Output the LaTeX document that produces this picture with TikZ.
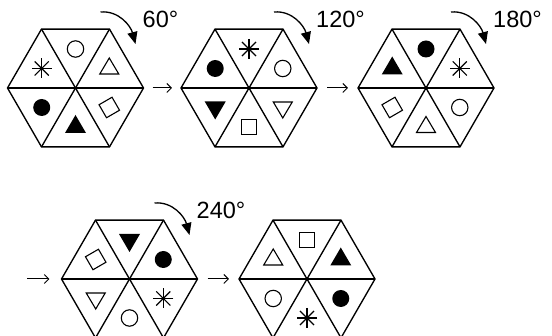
\documentclass[tikz,border=0pt]{standalone}
\usepackage{fontspec}
\setmainfont{Liberation Sans}
\usetikzlibrary{shapes.geometric,arrows.meta}
\tikzset{
  hexa/.style={regular polygon, regular polygon sides=6, minimum size=136pt,
    inner sep=0pt, outer sep=0pt, draw, line width=1.35pt},
  divline/.style={line width=1.35pt},
  stepline/.style={line width=1pt, -{Straight Barb[length=4.5pt,width=9pt]}},
  rotarrow/.style={line width=1.3pt, -{Triangle[length=12pt,width=10pt]}},
  anglelabel/.style={anchor=west, inner sep=0pt, font=\fontsize{23.5}{26}\selectfont},
  symline/.style={line width=1.1pt},
  pics/ocirc/.style={code={\draw[symline] (0pt,0pt) circle (8.2pt);}},
  pics/fcirc/.style={code={\fill (0pt,0pt) circle (8.5pt);}},
  pics/otriup/.style={code={\draw[symline,line join=miter] (-9.5pt,-5.5pt)--(9.5pt,-5.5pt)--(0pt,10.5pt)--cycle;}},
  pics/otridn/.style={code={\draw[symline,line join=miter] (-9.5pt,5.5pt)--(9.5pt,5.5pt)--(0pt,-10.5pt)--cycle;}},
  pics/ftriup/.style={code={\fill (-10.5pt,-6pt)--(10.5pt,-6pt)--(0pt,12pt)--cycle;}},
  pics/ftridn/.style={code={\fill (-10.5pt,6pt)--(10.5pt,6pt)--(0pt,-12pt)--cycle;}},
  pics/osq/.style={code={\draw[symline] (-7.5pt,-7.5pt) rectangle (7.5pt,7.5pt);}},
  pics/osqr/.style={code={\draw[symline,rotate=30] (-7.5pt,-7.5pt) rectangle (7.5pt,7.5pt);}},
  pics/star/.style={code={\foreach \a in {0,45,90,135}{\draw[symline] (\a:10pt) -- (\a+180:10pt);}}},
}
\newcommand\hexsyms[7]{%
  \draw[divline] (#1.corner 1) -- (#1.corner 4);
  \draw[divline] (#1.corner 2) -- (#1.corner 5);
  \draw[divline] (#1.corner 3) -- (#1.corner 6);
  \pic at ([shift={(90:39pt)}]#1.center) {#2};
  \pic at ([shift={(30:39pt)}]#1.center) {#3};
  \pic at ([shift={(-30:39pt)}]#1.center) {#4};
  \pic at ([shift={(-90:39pt)}]#1.center) {#5};
  \pic at ([shift={(-150:39pt)}]#1.center) {#6};
  \pic at ([shift={(150:39pt)}]#1.center) {#7};
}
\newcommand\rotmark[2]{%
  \coordinate (#1s) at ([shift={(25pt,76pt)}]#1.center);
  \coordinate (#1e) at ([shift={(60pt,44pt)}]#1.center);
  \draw[rotarrow] (#1s) to[out=5,in=105] (#1e);
  \node[anglelabel] (#1l) at ([shift={(67pt,69pt)}]#1.center) {#2};
}
\begin{document}
\begin{tikzpicture}[x=1pt,y=-1pt]
\useasboundingbox (0,0) rectangle (552,336);
\node[hexa] (h1) at (75.5,88) {};
\node[hexa] (h2) at (249,88) {};
\node[hexa] (h3) at (426,88) {};
\node[hexa] (h4) at (129.5,279) {};
\node[hexa] (h5) at (307,279) {};
\hexsyms{h1}{ocirc}{otriup}{osqr}{ftriup}{fcirc}{star}
\hexsyms{h2}{star}{ocirc}{otridn}{osq}{ftridn}{fcirc}
\hexsyms{h3}{fcirc}{star}{ocirc}{otriup}{osqr}{ftriup}
\hexsyms{h4}{ftridn}{fcirc}{star}{ocirc}{otridn}{osqr}
\hexsyms{h5}{osq}{ftriup}{fcirc}{star}{ocirc}{otriup}
\rotmark{h1}{60°}
\rotmark{h2}{120°}
\rotmark{h3}{180°}
\rotmark{h4}{240°}
\draw[stepline] ([xshift=9pt]h1.east) -- ([xshift=-9pt]h2.west);
\draw[stepline] ([xshift=10pt]h2.east) -- ([xshift=-10pt]h3.west);
\coordinate (s4) at ([xshift=-34pt]h4.west);
\draw[stepline] (s4) -- ([xshift=-12pt]h4.west);
\draw[stepline] ([xshift=10pt]h4.east) -- ([xshift=-10pt]h5.west);
\end{tikzpicture}
\end{document}
